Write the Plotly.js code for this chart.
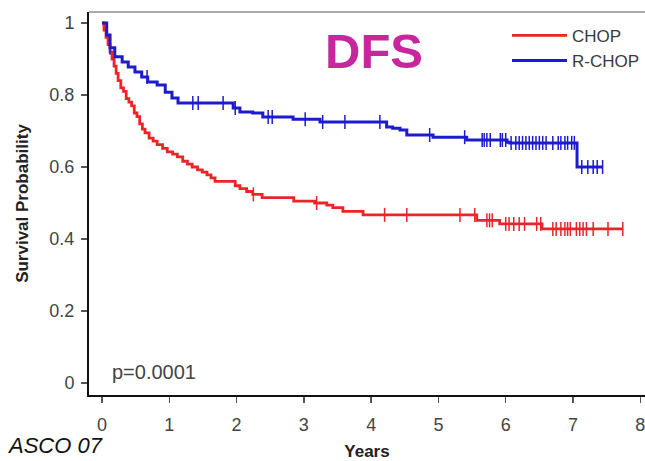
<!DOCTYPE html>
<html>
<head>
<meta charset="utf-8">
<script src="https://cdn.plot.ly/plotly-3.0.1.min.js"></script>
<style>html,body{margin:0;padding:0;background:#fff;}#chart{width:645px;height:461px;}</style>
</head>
<body>
<div id="chart"></div>
<script>
// CHOP (red): event times (years) and survival after each step
const chopTimes = [0, 0.03, 0.06, 0.09, 0.12, 0.15, 0.18, 0.21, 0.24, 0.28, 0.32, 0.36, 0.40, 0.44, 0.48, 0.52, 0.56, 0.60, 0.64, 0.70, 0.76, 0.82, 0.90, 0.97, 1.05, 1.12, 1.20, 1.27, 1.34, 1.42, 1.49, 1.56, 1.62, 1.68, 1.98, 2.05, 2.15, 2.24, 2.38, 2.85, 3.16, 3.34, 3.43, 3.58, 3.88, 5.57, 5.91, 6.54, 7.74];
const chopSurv  = [1.0, 0.98, 0.96, 0.94, 0.92, 0.90, 0.88, 0.86, 0.84, 0.82, 0.81, 0.79, 0.78, 0.77, 0.75, 0.74, 0.72, 0.705, 0.695, 0.68, 0.672, 0.662, 0.652, 0.642, 0.636, 0.628, 0.616, 0.608, 0.600, 0.592, 0.586, 0.578, 0.570, 0.560, 0.548, 0.540, 0.532, 0.524, 0.515, 0.505, 0.500, 0.494, 0.487, 0.477, 0.467, 0.452, 0.442, 0.428, 0.428];
const chopCensor = [2.25, 3.19, 4.2, 4.53, 5.32, 5.54, 5.72, 5.76, 5.8, 6.0, 6.05, 6.12, 6.2, 6.28, 6.46, 6.52, 6.7, 6.75, 6.82, 6.88, 6.92, 6.96, 7.05, 7.1, 7.15, 7.2, 7.3, 7.52, 7.74];

// R-CHOP (blue)
const rchopTimes = [0, 0.07, 0.12, 0.19, 0.30, 0.39, 0.49, 0.59, 0.68, 0.82, 0.94, 1.04, 1.13, 1.95, 2.05, 2.24, 2.39, 2.84, 3.24, 4.23, 4.32, 4.43, 4.53, 4.92, 5.42, 6.02, 6.06, 7.06, 7.44];
const rchopSurv  = [1.0, 0.967, 0.931, 0.906, 0.892, 0.878, 0.864, 0.85, 0.836, 0.828, 0.808, 0.792, 0.778, 0.764, 0.753, 0.75, 0.739, 0.733, 0.725, 0.711, 0.708, 0.703, 0.689, 0.683, 0.675, 0.669, 0.667, 0.60, 0.60];
const rchopCensor = [0.12, 0.67, 1.35, 1.43, 1.8, 1.98, 2.47, 2.53, 3.02, 3.28, 3.61, 4.13, 4.87, 5.39, 5.65, 5.68, 5.72, 5.77, 5.92, 5.95, 6.0, 6.08, 6.15, 6.2, 6.25, 6.3, 6.35, 6.4, 6.45, 6.5, 6.55, 6.6, 6.7, 6.78, 6.82, 6.88, 6.92, 6.98, 7.02, 7.13, 7.22, 7.3, 7.36, 7.44];

const xTickVals = [0, 1, 2, 3, 4, 5, 6, 7, 8];
const yTickVals = [0, 0.2, 0.4, 0.6, 0.8, 1];

function survAt(times, surv, t) {
  let s = surv[0];
  for (let i = 0; i < times.length; i++) { if (times[i] <= t) s = surv[i]; }
  return s;
}

const RED = '#ea2428', BLUE = '#1c1ccc';
const FONT = 'Liberation Sans, Arial, sans-serif';

const traces = [
  {x: chopTimes, y: chopSurv, type: 'scatter', mode: 'lines', name: 'CHOP',
   line: {color: RED, width: 2.8, shape: 'hv'}},
  {x: rchopTimes, y: rchopSurv, type: 'scatter', mode: 'lines', name: 'R-CHOP',
   line: {color: BLUE, width: 3, shape: 'hv'}},
  {x: chopCensor, y: chopCensor.map(t => survAt(chopTimes, chopSurv, t)), type: 'scatter', mode: 'markers',
   showlegend: false, hoverinfo: 'skip',
   marker: {symbol: 'line-ns', size: 10, line: {color: RED, width: 1.5}}},
  {x: rchopCensor, y: rchopCensor.map(t => survAt(rchopTimes, rchopSurv, t)), type: 'scatter', mode: 'markers',
   showlegend: false, hoverinfo: 'skip',
   marker: {symbol: 'line-ns', size: 10, line: {color: BLUE, width: 1.5}}}
];

const layout = {
  width: 645, height: 461,
  margin: {l: 89, r: 0, t: 12, b: 66},
  paper_bgcolor: '#ffffff', plot_bgcolor: '#ffffff',
  font: {family: FONT, color: '#3a3a3a'},
  showlegend: true,
  legend: {x: 0.752, y: 0.985, xanchor: 'left', yanchor: 'top', bgcolor: 'rgba(0,0,0,0)',
           font: {family: FONT, size: 17, color: '#3a3a3a'}, tracegroupgap: 0, itemwidth: 55},
  xaxis: {range: [-0.193, 8.07], tickvals: xTickVals, ticks: 'outside', ticklen: 6, tickwidth: 1.5,
          tickcolor: '#555', showline: true, linecolor: '#111', linewidth: 2, showgrid: false,
          zeroline: false, tickfont: {family: FONT, size: 18, color: '#444'}, ticklabelstandoff: 6,
          ticklabeloverflow: 'allow',
          title: {text: 'Years', font: {family: FONT, size: 17, color: '#222', weight: 'bold'}, standoff: 12}},
  yaxis: {range: [-0.0333, 1.0306], tickvals: yTickVals, ticks: 'outside', ticklen: 6, tickwidth: 1.5,
          tickcolor: '#555', showline: true, linecolor: '#111', linewidth: 2, showgrid: false,
          zeroline: false, tickfont: {family: FONT, size: 18, color: '#444'}, ticklabelstandoff: 3,
          title: {text: 'Survival Probability', font: {family: FONT, size: 17, color: '#222', weight: 'bold'}, standoff: 16}},
  shapes: [
    {type: 'line', xref: 'paper', yref: 'paper', x0: 0, x1: 1.1, y0: 1, y1: 1,
     line: {color: '#aaaaaa', width: 2}}
  ],
  annotations: [
    {text: 'DFS', xref: 'paper', yref: 'paper', x: 0.5126, y: 0.899, xanchor: 'center', yanchor: 'middle',
     showarrow: false, font: {family: FONT, size: 49, color: '#c8269f', weight: 'bold'}},
    {text: 'p=0.0001', xref: 'paper', yref: 'paper', x: 0.0378, y: 0.060, xanchor: 'left', yanchor: 'middle',
     showarrow: false, font: {family: FONT, size: 20, color: '#444'}},
    {text: '<i>ASCO 07</i>', xref: 'paper', yref: 'paper', x: -0.150, y: -0.0966, xanchor: 'left', yanchor: 'top',
     borderpad: 0, showarrow: false, font: {family: FONT, size: 22, color: '#111'}}
  ]
};

Plotly.newPlot('chart', traces, layout, {displayModeBar: false, staticPlot: true});
</script>
</body>
</html>
